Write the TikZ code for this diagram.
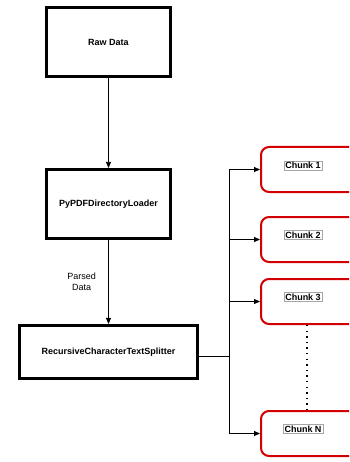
\documentclass[tikz,border=0pt]{standalone}
\usepackage{fontspec}
\setmainfont{Liberation Sans}
\usetikzlibrary{arrows.meta}

\definecolor{chunkred}{RGB}{210,0,0}

\begin{document}
\begin{tikzpicture}[x=1pt,y=-1pt,font=\fontsize{9}{11}\selectfont\bfseries,
stage/.style={draw, line width=2.6pt, minimum width=124pt, minimum height=69.5pt, align=center},
chunk/.style={draw=chunkred, line width=2pt, rounded corners=8pt, minimum width=130pt, minimum height=45pt},
tag/.style={draw=black!35, line width=0.4pt, fill=white, inner sep=1.2pt, font=\fontsize{9}{10}\selectfont\bfseries},
flow/.style={line width=0.8pt, -{Triangle[length=6pt,width=5pt]}}]
\useasboundingbox (0,0) rectangle (349,462);
\clip (0,0) rectangle (349,462);

% pipeline
\node[stage] (raw) at (108.5,42) {Raw Data};
\node[stage] (loader) at (108.5,204) {PyPDFDirectoryLoader};
\node[stage, minimum width=178.5pt, minimum height=53.5pt] (splitter) at (108.5,352) {RecursiveCharacterTextSplitter};

% chunks
\node[chunk, anchor=west] (c1) at (260,169.5) {};
\node[chunk, anchor=west] (c2) at (260,239.5) {};
\node[chunk, anchor=west] (c3) at (260,301.5) {};
\node[chunk, anchor=west] (cN) at (260,433.5) {};
\node[tag] (t1) at (303,165.5) {Chunk 1};
\node[tag] (t2) at (303,235) {Chunk 2};
\node[tag] (t3) at (303,297) {Chunk 3};
\node[tag] (tN) at (303,429) {Chunk N};

\draw[flow] (raw) -- (loader);
\draw[flow] (loader) -- node[left=9pt, font=\fontsize{9}{11}\selectfont, align=center] {Parsed\\Data} (splitter);

\coordinate (fork) at (229,356);
\draw[line width=0.8pt] (splitter.east |- fork) -- (fork);
\foreach \c in {c1,c2,c3,cN}
  \draw[flow] (fork) |- (\c.west);

\draw[line width=1.5pt, dash pattern=on 1.4pt off 4.2pt] ([xshift=47pt]c3.south west) -- ([xshift=47pt]cN.north west);
\end{tikzpicture}
\end{document}
